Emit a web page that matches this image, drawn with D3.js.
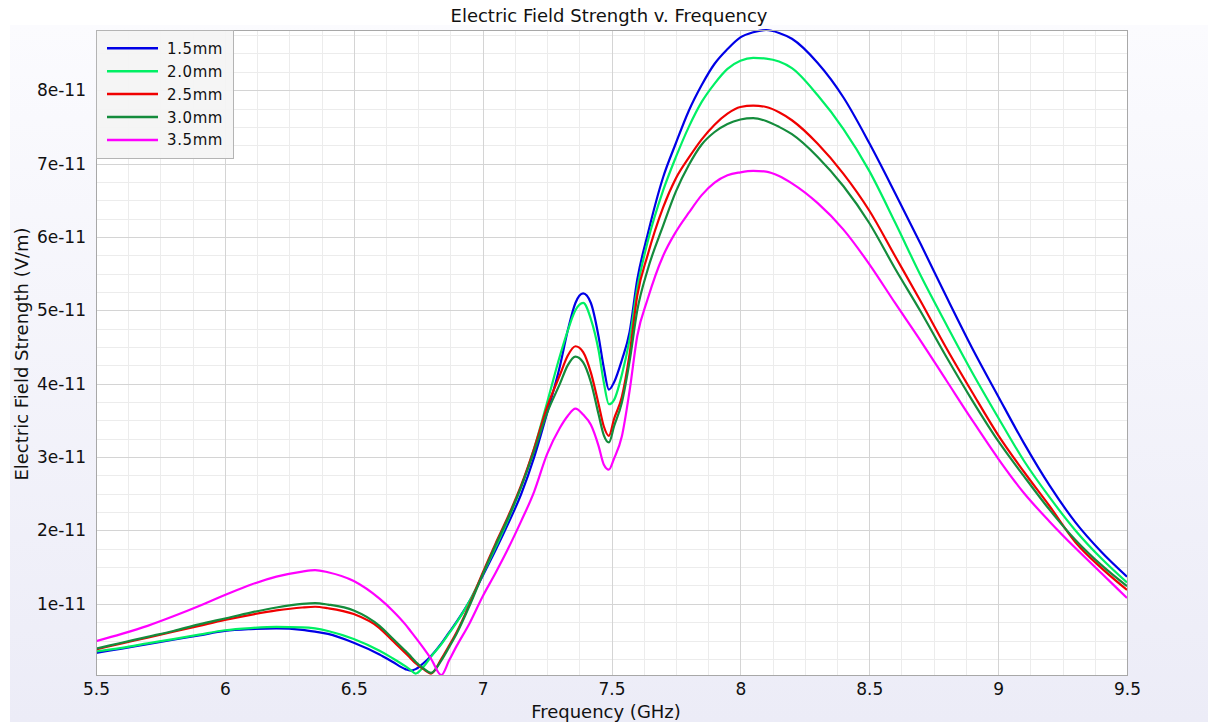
<!DOCTYPE html>
<html>
<head>
<meta charset="utf-8">
<script src="https://cdn.jsdelivr.net/npm/d3@7"></script>
<style>
  html, body { margin: 0; padding: 0; background: #ffffff; }
  svg { display: block; font-family: "DejaVu Sans", sans-serif; }
</style>
</head>
<body>
<svg id="chart" width="1208" height="722"></svg>
<script>
// ---------- data (values in units of 1e-11 V/m) ----------
const freq = [5.5, 5.6, 5.7, 5.8, 5.9, 6.0, 6.1, 6.2, 6.3, 6.35, 6.4, 6.5, 6.6, 6.65, 6.7, 6.72, 6.74, 6.77, 6.8, 6.84, 6.87, 6.9, 6.95, 7.0, 7.05, 7.1, 7.15, 7.2, 7.25, 7.3, 7.33, 7.36, 7.39, 7.42, 7.45, 7.47, 7.49, 7.51, 7.54, 7.57, 7.6, 7.64, 7.7, 7.75, 7.8, 7.85, 7.9, 7.95, 8.0, 8.05, 8.1, 8.15, 8.2, 8.3, 8.4, 8.5, 8.6, 8.7, 8.8, 8.9, 9.0, 9.1, 9.2, 9.3, 9.4, 9.5];

const s15 = [0.33, 0.39, 0.45, 0.51, 0.57, 0.63, 0.655, 0.665, 0.645, 0.62, 0.59, 0.47, 0.31, 0.21, 0.11, 0.09, 0.11, 0.19, 0.29, 0.46, 0.61, 0.76, 1.04, 1.38, 1.73, 2.10, 2.50, 3.00, 3.60, 4.24, 4.72, 5.10, 5.23, 5.10, 4.64, 4.22, 3.92, 4.02, 4.32, 4.70, 5.42, 6.03, 6.81, 7.28, 7.72, 8.07, 8.36, 8.56, 8.72, 8.79, 8.82, 8.78, 8.70, 8.37, 7.90, 7.28, 6.60, 5.90, 5.18, 4.48, 3.83, 3.19, 2.61, 2.11, 1.71, 1.37];

const s20 = [0.35, 0.40, 0.46, 0.52, 0.58, 0.64, 0.67, 0.685, 0.68, 0.665, 0.63, 0.52, 0.36, 0.26, 0.15, 0.10, 0.05, 0.14, 0.28, 0.45, 0.60, 0.75, 1.04, 1.40, 1.77, 2.16, 2.60, 3.12, 3.74, 4.38, 4.72, 5.00, 5.10, 4.88, 4.45, 4.02, 3.72, 3.78, 4.12, 4.60, 5.30, 5.93, 6.63, 7.09, 7.50, 7.84, 8.09, 8.29, 8.40, 8.44, 8.43, 8.39, 8.30, 7.93, 7.47, 6.90, 6.20, 5.47, 4.80, 4.15, 3.54, 2.95, 2.45, 2.00, 1.62, 1.29];

const s25 = [0.38, 0.46, 0.54, 0.62, 0.70, 0.78, 0.85, 0.91, 0.95, 0.96, 0.94, 0.86, 0.67, 0.50, 0.33, 0.26, 0.19, 0.11, 0.05, 0.25, 0.43, 0.62, 1.00, 1.42, 1.82, 2.20, 2.62, 3.12, 3.68, 4.12, 4.38, 4.51, 4.43, 4.15, 3.72, 3.42, 3.29, 3.52, 3.82, 4.40, 5.20, 5.75, 6.40, 6.80, 7.08, 7.33, 7.53, 7.68, 7.77, 7.79, 7.77, 7.70, 7.59, 7.27, 6.86, 6.36, 5.74, 5.12, 4.48, 3.88, 3.30, 2.80, 2.33, 1.84, 1.49, 1.19];

const s30 = [0.39, 0.47, 0.55, 0.63, 0.72, 0.80, 0.88, 0.95, 1.00, 1.01, 0.99, 0.91, 0.70, 0.53, 0.36, 0.29, 0.21, 0.12, 0.06, 0.23, 0.41, 0.60, 0.98, 1.40, 1.80, 2.18, 2.60, 3.08, 3.60, 4.00, 4.25, 4.37, 4.29, 4.02, 3.58, 3.30, 3.20, 3.42, 3.74, 4.30, 5.00, 5.55, 6.15, 6.62, 6.98, 7.26, 7.43, 7.54, 7.60, 7.62, 7.58, 7.50, 7.40, 7.09, 6.69, 6.19, 5.57, 4.98, 4.36, 3.77, 3.22, 2.74, 2.28, 1.87, 1.53, 1.24];

const s35 = [0.49, 0.59, 0.70, 0.83, 0.97, 1.12, 1.26, 1.37, 1.44, 1.46, 1.43, 1.31, 1.07, 0.91, 0.72, 0.63, 0.54, 0.40, 0.25, 0.03, 0.23, 0.43, 0.74, 1.10, 1.42, 1.76, 2.13, 2.53, 3.04, 3.40, 3.56, 3.66, 3.58, 3.44, 3.15, 2.90, 2.83, 2.98, 3.28, 3.90, 4.65, 5.15, 5.74, 6.07, 6.33, 6.57, 6.74, 6.84, 6.88, 6.90, 6.89, 6.83, 6.73, 6.46, 6.10, 5.63, 5.10, 4.58, 4.04, 3.50, 2.98, 2.51, 2.12, 1.76, 1.42, 1.08];

const seriesNames = ["1.5mm", "2.0mm", "2.5mm", "3.0mm", "3.5mm"];
const seriesValues = [s15, s20, s25, s30, s35];
const seriesColors = ["#0000e6", "#00f064", "#f00000", "#148c3c", "#ff00ff"];

const xTicks = [5.5, 6, 6.5, 7, 7.5, 8, 8.5, 9, 9.5];
const yTicks = [1, 2, 3, 4, 5, 6, 7, 8];
const yTickLabels = ["1e-11", "2e-11", "3e-11", "4e-11", "5e-11", "6e-11", "7e-11", "8e-11"];
const UNIT = 1e-11;

// ---------- layout ----------
const W = 1208, H = 722;
const plot = { left: 96, right: 1127, top: 30, bottom: 675 };

const svg = d3.select("#chart");

// outer panel with light lavender gradient
const defs = svg.append("defs");
const grad = defs.append("linearGradient").attr("id", "bg").attr("x1", 0).attr("y1", 0).attr("x2", 0).attr("y2", 1);
grad.append("stop").attr("offset", "0%").attr("stop-color", "#fbfbfe");
grad.append("stop").attr("offset", "100%").attr("stop-color", "#ececf7");
svg.append("rect").attr("x", 10).attr("y", 25).attr("width", W - 10).attr("height", H - 25).attr("fill", "url(#bg)");

const allVals = seriesValues.flat().map(v => v * UNIT);
const x = d3.scaleLinear().domain(d3.extent(freq)).range([plot.left, plot.right]);
const y = d3.scaleLinear().domain(d3.extent(allVals)).range([plot.bottom, plot.top]);

// plot background
svg.append("rect").attr("x", plot.left).attr("y", plot.top)
  .attr("width", plot.right - plot.left).attr("height", plot.bottom - plot.top)
  .attr("fill", "#ffffff");

// minor grid
const xMinor = d3.range(5.5, 9.5001, 0.125);
const yMinor = d3.range(0.25, 8.8, 0.25).map(v => v * UNIT).filter(v => v >= y.domain()[0] && v <= y.domain()[1]);
const grid = svg.append("g");
grid.selectAll(".xm").data(xMinor).join("line")
  .attr("x1", d => Math.round(x(d)) + 0.5).attr("x2", d => Math.round(x(d)) + 0.5)
  .attr("y1", plot.top).attr("y2", plot.bottom)
  .attr("stroke", "#ececec").attr("stroke-width", 1);
grid.selectAll(".ym").data(yMinor).join("line")
  .attr("x1", plot.left).attr("x2", plot.right)
  .attr("y1", d => Math.round(y(d)) + 0.5).attr("y2", d => Math.round(y(d)) + 0.5)
  .attr("stroke", "#ececec").attr("stroke-width", 1);
// major grid
grid.selectAll(".xM").data(xTicks).join("line")
  .attr("x1", d => Math.round(x(d)) + 0.5).attr("x2", d => Math.round(x(d)) + 0.5)
  .attr("y1", plot.top).attr("y2", plot.bottom)
  .attr("stroke", "#d4d4d4").attr("stroke-width", 1);
grid.selectAll(".yM").data(yTicks).join("line")
  .attr("x1", plot.left).attr("x2", plot.right)
  .attr("y1", d => Math.round(y(d * UNIT)) + 0.5).attr("y2", d => Math.round(y(d * UNIT)) + 0.5)
  .attr("stroke", "#d4d4d4").attr("stroke-width", 1);

// axes (labels only, no tick marks)
const xAxis = d3.axisBottom(x).tickValues(xTicks).tickSize(0).tickPadding(8)
  .tickFormat(d => String(d));
svg.append("g").attr("transform", `translate(0,${plot.bottom})`).call(xAxis)
  .call(g => g.select(".domain").remove())
  .selectAll("text").attr("font-size", 17).attr("fill", "#111").attr("font-family", "DejaVu Sans");

const yAxis = d3.axisLeft(y).tickValues(yTicks.map(v => v * UNIT)).tickSize(0).tickPadding(10)
  .tickFormat((d, i) => yTickLabels[i]);
svg.append("g").attr("transform", `translate(${plot.left},0)`).call(yAxis)
  .call(g => g.select(".domain").remove())
  .selectAll("text").attr("font-size", 17).attr("fill", "#111").attr("font-family", "DejaVu Sans");

// lines
const clip = defs.append("clipPath").attr("id", "clip");
clip.append("rect").attr("x", plot.left).attr("y", plot.top - 2)
  .attr("width", plot.right - plot.left).attr("height", plot.bottom - plot.top + 4);

const line = d3.line().x((d, i) => x(freq[i])).y(d => y(d * UNIT)).curve(d3.curveMonotoneX);
svg.append("g").attr("clip-path", "url(#clip)")
  .selectAll("path").data(seriesValues).join("path")
  .attr("d", d => line(d))
  .attr("fill", "none")
  .attr("stroke", (d, i) => seriesColors[i])
  .attr("stroke-width", 2.2)
  .attr("stroke-linejoin", "round");

// plot border
svg.append("rect").attr("x", plot.left + 0.5).attr("y", plot.top + 0.5)
  .attr("width", plot.right - plot.left).attr("height", plot.bottom - plot.top)
  .attr("fill", "none").attr("stroke", "#a8a8a8").attr("stroke-width", 1);

// legend
const leg = svg.append("g");
leg.append("rect").attr("x", plot.left + 0.5).attr("y", plot.top + 0.5)
  .attr("width", 137).attr("height", 128)
  .attr("fill", "#f4f4f4").attr("fill-opacity", 0.95)
  .attr("stroke", "#b4b4b4").attr("stroke-width", 1);
const items = leg.selectAll("g.item").data(seriesNames).join("g")
  .attr("transform", (d, i) => `translate(0,${48.3 + i * 22.9})`);
items.append("line").attr("x1", 107).attr("x2", 158).attr("y1", 0).attr("y2", 0)
  .attr("stroke", (d, i) => seriesColors[i]).attr("stroke-width", 2.5);
items.append("text").attr("x", 167).attr("y", 5.5).text(d => d)
  .attr("font-size", 15).attr("fill", "#111").attr("letter-spacing", 0.6);

// title and axis labels
svg.append("text").attr("x", 609).attr("y", 22).attr("text-anchor", "middle")
  .attr("font-size", 18).attr("fill", "#111").text("Electric Field Strength v. Frequency");
svg.append("text").attr("x", 606).attr("y", 718).attr("text-anchor", "middle")
  .attr("font-size", 18).attr("fill", "#111").text("Frequency (GHz)");
svg.append("text").attr("transform", "translate(28,354) rotate(-90)").attr("text-anchor", "middle")
  .attr("font-size", 18).attr("fill", "#111").text("Electric Field Strength (V/m)");
</script>
</body>
</html>
